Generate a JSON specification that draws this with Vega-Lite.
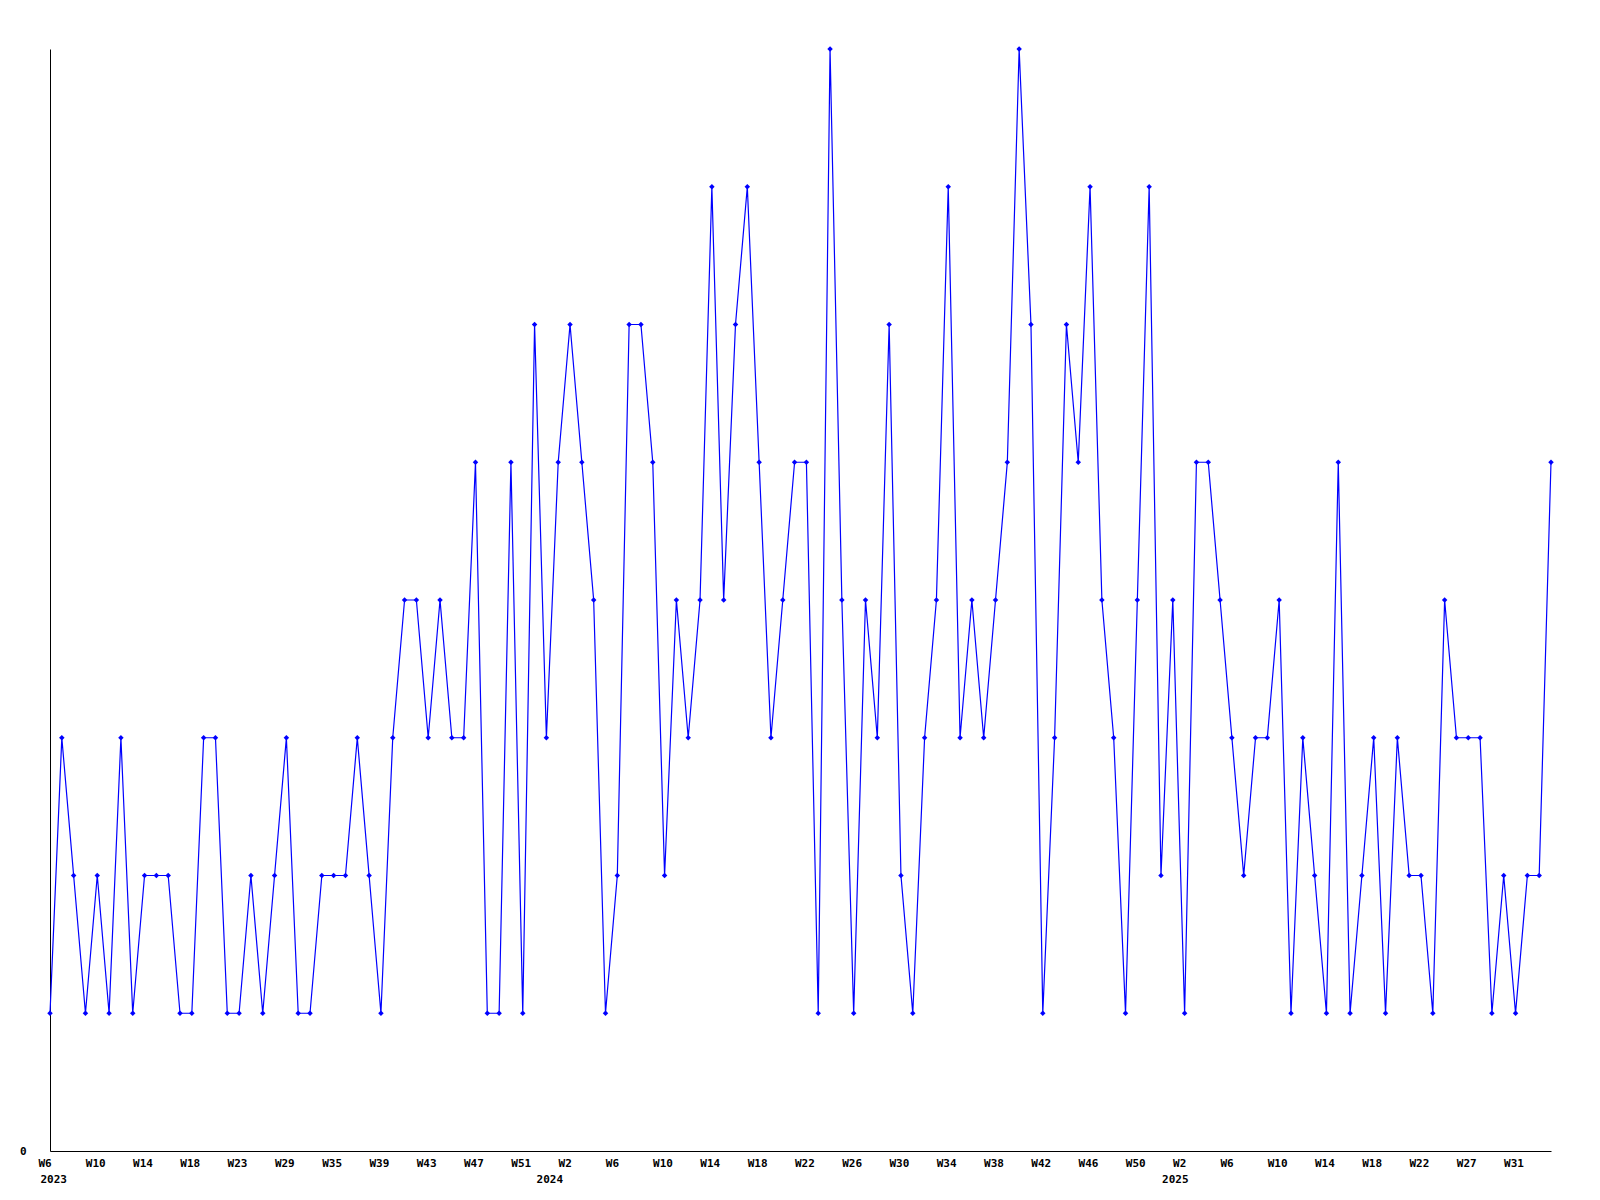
{
  "$schema": "https://vega.github.io/schema/vega-lite/v6.json",
  "width": 1501,
  "height": 1102,
  "autosize": {"type": "none"},
  "padding": {"left": 50, "top": 49, "right": 49, "bottom": 49},
  "background": "white",
  "config": {"view": {"stroke": null}, "font": "DejaVu Sans Mono"},
  "data": {"values": [
    {"wk":"2023-W6","v":1},{"wk":"2023-W7","v":3},{"wk":"2023-W8","v":2},{"wk":"2023-W9","v":1},
    {"wk":"2023-W10","v":2},{"wk":"2023-W11","v":1},{"wk":"2023-W12","v":3},{"wk":"2023-W13","v":1},
    {"wk":"2023-W14","v":2},{"wk":"2023-W15","v":2},{"wk":"2023-W16","v":2},{"wk":"2023-W17","v":1},
    {"wk":"2023-W18","v":1},{"wk":"2023-W19","v":3},{"wk":"2023-W20","v":3},{"wk":"2023-W21","v":1},
    {"wk":"2023-W23","v":1},{"wk":"2023-W24","v":2},{"wk":"2023-W25","v":1},{"wk":"2023-W27","v":2},
    {"wk":"2023-W29","v":3},{"wk":"2023-W30","v":1},{"wk":"2023-W32","v":1},{"wk":"2023-W34","v":2},
    {"wk":"2023-W35","v":2},{"wk":"2023-W36","v":2},{"wk":"2023-W37","v":3},{"wk":"2023-W38","v":2},
    {"wk":"2023-W39","v":1},{"wk":"2023-W40","v":3},{"wk":"2023-W41","v":4},{"wk":"2023-W42","v":4},
    {"wk":"2023-W43","v":3},{"wk":"2023-W44","v":4},{"wk":"2023-W45","v":3},{"wk":"2023-W46","v":3},
    {"wk":"2023-W47","v":5},{"wk":"2023-W48","v":1},{"wk":"2023-W49","v":1},{"wk":"2023-W50","v":5},
    {"wk":"2023-W51","v":1},{"wk":"2023-W52","v":6},{"wk":"2023-W53","v":3},{"wk":"2024-W1","v":5},
    {"wk":"2024-W2","v":6},{"wk":"2024-W3","v":5},{"wk":"2024-W4","v":4},{"wk":"2024-W5","v":1},
    {"wk":"2024-W6","v":2},{"wk":"2024-W7","v":6},{"wk":"2024-W8","v":6},{"wk":"2024-W9","v":5},
    {"wk":"2024-W10","v":2},{"wk":"2024-W11","v":4},{"wk":"2024-W12","v":3},{"wk":"2024-W13","v":4},
    {"wk":"2024-W14","v":7},{"wk":"2024-W15","v":4},{"wk":"2024-W16","v":6},{"wk":"2024-W17","v":7},
    {"wk":"2024-W18","v":5},{"wk":"2024-W19","v":3},{"wk":"2024-W20","v":4},{"wk":"2024-W21","v":5},
    {"wk":"2024-W22","v":5},{"wk":"2024-W23","v":1},{"wk":"2024-W24","v":8},{"wk":"2024-W25","v":4},
    {"wk":"2024-W26","v":1},{"wk":"2024-W27","v":4},{"wk":"2024-W28","v":3},{"wk":"2024-W29","v":6},
    {"wk":"2024-W30","v":2},{"wk":"2024-W31","v":1},{"wk":"2024-W32","v":3},{"wk":"2024-W33","v":4},
    {"wk":"2024-W34","v":7},{"wk":"2024-W35","v":3},{"wk":"2024-W36","v":4},{"wk":"2024-W37","v":3},
    {"wk":"2024-W38","v":4},{"wk":"2024-W39","v":5},{"wk":"2024-W40","v":8},{"wk":"2024-W41","v":6},
    {"wk":"2024-W42","v":1},{"wk":"2024-W43","v":3},{"wk":"2024-W44","v":6},{"wk":"2024-W45","v":5},
    {"wk":"2024-W46","v":7},{"wk":"2024-W47","v":4},{"wk":"2024-W48","v":3},{"wk":"2024-W49","v":1},
    {"wk":"2024-W50","v":4},{"wk":"2024-W51","v":7},{"wk":"2024-W52","v":2},{"wk":"2025-W1","v":4},
    {"wk":"2025-W2","v":1},{"wk":"2025-W3","v":5},{"wk":"2025-W4","v":5},{"wk":"2025-W5","v":4},
    {"wk":"2025-W6","v":3},{"wk":"2025-W7","v":2},{"wk":"2025-W8","v":3},{"wk":"2025-W9","v":3},
    {"wk":"2025-W10","v":4},{"wk":"2025-W11","v":1},{"wk":"2025-W12","v":3},{"wk":"2025-W13","v":2},
    {"wk":"2025-W14","v":1},{"wk":"2025-W15","v":5},{"wk":"2025-W16","v":1},{"wk":"2025-W17","v":2},
    {"wk":"2025-W18","v":3},{"wk":"2025-W19","v":1},{"wk":"2025-W20","v":3},{"wk":"2025-W21","v":2},
    {"wk":"2025-W22","v":2},{"wk":"2025-W23","v":1},{"wk":"2025-W24","v":4},{"wk":"2025-W26","v":3},
    {"wk":"2025-W27","v":3},{"wk":"2025-W28","v":3},{"wk":"2025-W29","v":1},{"wk":"2025-W30","v":2},
    {"wk":"2025-W31","v":1},{"wk":"2025-W32","v":2},{"wk":"2025-W33","v":2},{"wk":"2025-W34","v":5}
  ]},
  "encoding": {
    "y": {
      "field": "v", "type": "quantitative",
      "scale": {"domain": [0, 8], "nice": false, "zero": true},
      "axis": {
        "title": null, "values": [0], "ticks": false, "tickSize": 0, "grid": false,
        "domain": true, "domainColor": "black", "domainWidth": 1,
        "labelFont": "DejaVu Sans Mono", "labelFontWeight": "bold", "labelFontSize": 11,
        "labelColor": "black", "labelPadding": 24
      }
    }
  },
  "layer": [
    {
      "mark": {"type": "line", "color": "#0000ff", "strokeWidth": 1.2},
      "encoding": {
        "x": {
          "field": "wk", "type": "ordinal", "sort": null,
          "scale": {"type": "point", "padding": 0},
          "axis": {
            "orient": "bottom", "title": null,
            "values": ["2023-W6","2023-W10","2023-W14","2023-W18","2023-W23","2023-W29","2023-W35","2023-W39","2023-W43","2023-W47","2023-W51","2024-W2","2024-W6","2024-W10","2024-W14","2024-W18","2024-W22","2024-W26","2024-W30","2024-W34","2024-W38","2024-W42","2024-W46","2024-W50","2025-W2","2025-W6","2025-W10","2025-W14","2025-W18","2025-W22","2025-W27","2025-W31"],
            "labelExpr": "split(datum.value, '-')[1]",
            "ticks": false, "tickSize": 0, "grid": false,
            "domain": true, "domainColor": "black", "domainWidth": 1,
            "labelFont": "DejaVu Sans Mono", "labelFontWeight": "bold", "labelFontSize": 11,
            "labelColor": "black", "labelAlign": "left", "labelBaseline": "top",
            "labelOffset": -12, "labelPadding": 6, "labelOverlap": false, "labelAngle": 0
          }
        }
      }
    },
    {
      "mark": {"type": "point", "shape": "diamond", "filled": true, "color": "#0000ff", "size": 30, "opacity": 1},
      "encoding": {
        "x": {
          "field": "wk", "type": "ordinal", "sort": null,
          "scale": {"type": "point", "padding": 0},
          "axis": {
            "orient": "bottom", "title": null,
            "values": ["2023-W6","2024-W2","2025-W2"],
            "labelExpr": "split(datum.value, '-')[0]",
            "ticks": false, "tickSize": 0, "grid": false, "domain": false,
            "labelFont": "DejaVu Sans Mono", "labelFontWeight": "bold", "labelFontSize": 11,
            "labelColor": "black", "labelAlign": "left", "labelBaseline": "top",
            "labelOffset": {"condition": [{"test": "datum.value === '2024-W2'", "value": -34}, {"test": "datum.value === '2025-W2'", "value": -23}], "value": -10},
            "labelPadding": 22, "labelOverlap": false, "labelAngle": 0
          }
        }
      }
    }
  ],
  "resolve": {"axis": {"x": "independent"}}
}
